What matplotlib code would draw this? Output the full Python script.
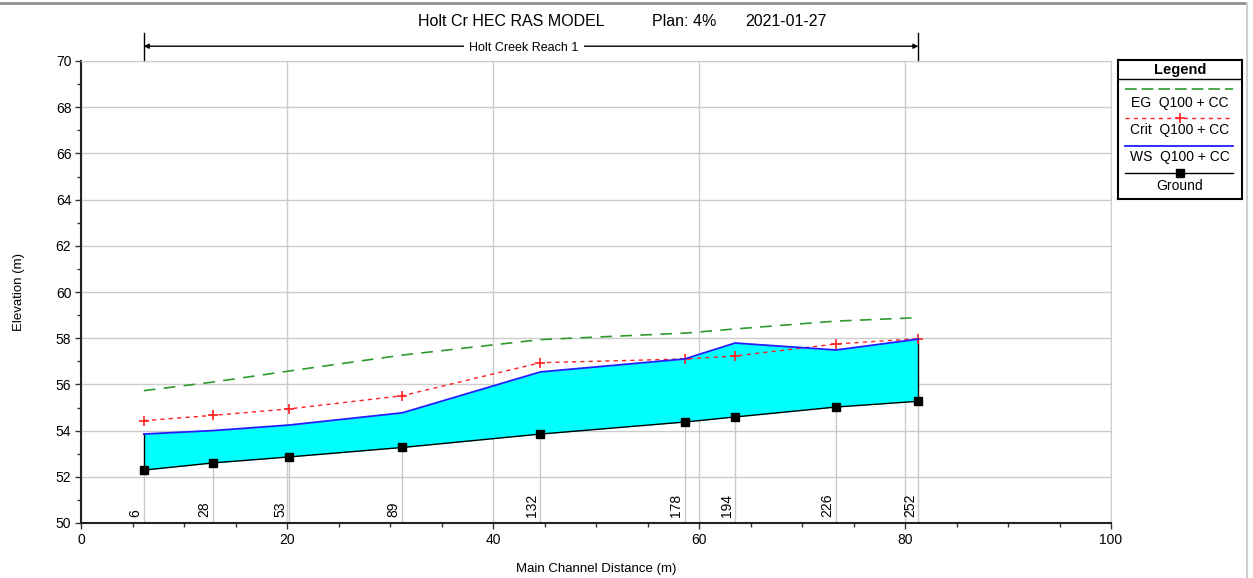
import matplotlib
matplotlib.use("Agg")
import matplotlib.pyplot as plt
from matplotlib.lines import Line2D

plt.rcParams['font.family'] = ['Liberation Sans', 'DejaVu Sans']

# river stations and their main channel distance (m)
stations = ['6', '28', '53', '89', '132', '178', '194', '226', '252']
dist = [6.1, 12.8, 20.2, 31.2, 44.6, 58.6, 63.5, 73.3, 81.3]

# profiles, elevation (m)
ground = [52.29, 52.60, 52.86, 53.27, 53.85, 54.37, 54.59, 55.02, 55.27]
ws = [53.85, 54.00, 54.24, 54.77, 56.54, 57.10, 57.79, 57.49, 57.96]
crit = [54.43, 54.66, 54.94, 55.51, 56.94, 57.10, 57.23, 57.75, 57.98]
eg = [55.73, 56.10, 56.58, 57.27, 57.94, 58.22, 58.40, 58.74, 58.89]

title_parts = ['Holt Cr HEC RAS MODEL', 'Plan: 4%', '2021-01-27']
reach_name = 'Holt Creek Reach 1'
legend_labels = ['EG  Q100 + CC', 'Crit  Q100 + CC', 'WS  Q100 + CC', 'Ground']

W, H = 1253, 578
fig = plt.figure(figsize=(W / 100, H / 100), dpi=100)
ax = fig.add_axes([81 / W, 1 - 523 / H, (1111 - 81) / W, (523 - 61) / H])

ax.set_xlim(0, 100)
ax.set_ylim(50, 70)
ax.set_xticks(range(0, 101, 20))
ax.set_xticks(range(0, 101, 5), minor=True)
ax.set_yticks(range(50, 71, 2))
ax.set_yticks(range(50, 71, 1), minor=True)
ax.grid(True, which='major', color='#cccccc', lw=1)
ax.set_axisbelow(True)
ax.tick_params(which='both', direction='out', labelsize=10, width=1, color='#333333')
ax.tick_params(which='major', length=4, pad=3)
ax.tick_params(which='minor', length=3)
for s in ['top', 'right']:
    ax.spines[s].set_color('#cccccc')
for s in ['left', 'bottom']:
    ax.spines[s].set_color('#222222')
    ax.spines[s].set_linewidth(1.5)

# station lines + labels
ax.vlines(dist, 50, ground, color='#c8c8c8', lw=1, zorder=1)
for d, st in zip(dist, stations):
    ax.text(d - 0.15, 50.25, st, rotation=90, ha='right', va='bottom', fontsize=10)

# water fill
ax.fill_between(dist, ground, ws, color='#00ffff', lw=0, zorder=2)
ax.plot([dist[0], dist[0]], [ground[0], ws[0]], color='black', lw=1, zorder=3)
ax.plot([dist[-1], dist[-1]], [ground[-1], ws[-1]], color='black', lw=1, zorder=3)

ax.plot(dist, eg, color='#2e9a2e', lw=1.2, dashes=(7, 5), zorder=4)
ax.plot(dist, crit, color='#ff2020', lw=1, dashes=(3, 3), marker='+', ms=7, mew=1.2, zorder=4)
ax.plot(dist, ws, color='#2020ff', lw=1.3, zorder=4)
ax.plot(dist, ground, color='black', lw=1, marker='s', ms=5.5, zorder=5)

ax.set_xlabel('Main Channel Distance (m)', fontsize=9.5, labelpad=12)
ax.set_ylabel('Elevation (m)', fontsize=9.5, labelpad=22)

# reach arrow above plot
tr = ax.get_xaxis_transform()
ax.annotate('', xy=(dist[0], 1.032), xytext=(dist[-1], 1.032), xycoords=tr, textcoords=tr,
            arrowprops=dict(arrowstyle='<|-|>', color='black', lw=1, mutation_scale=7,
                            shrinkA=0, shrinkB=0), annotation_clip=False)
for d in [dist[0], dist[-1]]:
    ax.plot([d, d], [1.0, 1.061], transform=tr, color='black', lw=1, clip_on=False)
ax.text(43, 1.028, reach_name, transform=tr, ha='center', va='center', fontsize=9,
        bbox=dict(facecolor='white', edgecolor='none', pad=4))

# title
fig.text(418 / W, 1 - 21 / H, title_parts[0], ha='left', va='center', fontsize=11.5)
fig.text(652 / W, 1 - 21 / H, title_parts[1], ha='left', va='center', fontsize=11.5)
fig.text(745 / W, 1 - 21 / H, title_parts[2], ha='left', va='center', fontsize=11.5)

# window border remnants
fig.add_artist(Line2D([0, 1245 / W], [1 - 3 / H, 1 - 3 / H], color='#909090', lw=2))
fig.add_artist(Line2D([1247 / W, 1247 / W], [0, 1 - 3 / H], color='#cfcfcf', lw=1.5))

# legend box
lg = fig.add_axes([1118 / W, 1 - 199 / H, 124 / W, 139 / H])
lg.set_xlim(0, 1)
lg.set_ylim(0, 1)
lg.set_xticks([])
lg.set_yticks([])
for s in lg.spines.values():
    s.set_linewidth(1.5)
lg.text(0.5, 0.928, 'Legend', ha='center', va='center', fontsize=10.5, fontweight='bold')
lg.axhline(0.863, color='black', lw=1)
x0, x1 = 0.056, 0.927
lg.plot([x0, x1], [0.791, 0.791], color='#2e9a2e', lw=1.2, dashes=(7, 3))
lg.text(0.5, 0.691, legend_labels[0], ha='center', va='center', fontsize=10)
lg.plot([x0, x1], [0.583, 0.583], color='#ff2020', lw=1, dashes=(3, 3))
lg.plot([0.5], [0.583], color='#ff2020', marker='+', ms=7, mew=1.2)
lg.text(0.5, 0.496, legend_labels[1], ha='center', va='center', fontsize=10)
lg.plot([x0, x1], [0.381, 0.381], color='#2020ff', lw=1.3)
lg.text(0.5, 0.302, legend_labels[2], ha='center', va='center', fontsize=10)
lg.plot([x0, x1], [0.187, 0.187], color='black', lw=1)
lg.plot([0.5], [0.187], color='black', marker='s', ms=5.5)
lg.text(0.5, 0.094, legend_labels[3], ha='center', va='center', fontsize=10)

fig.savefig('out.png', dpi=100)
